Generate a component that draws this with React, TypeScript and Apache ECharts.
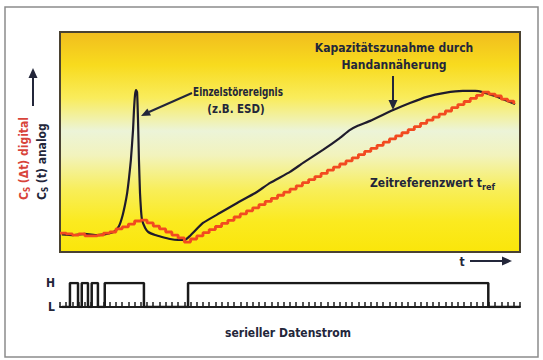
import React, { useEffect, useRef } from "react";
import * as echarts from "echarts";

// time axis in sampling-clock units (one tick per sample)
const TIME_MAX = 74;

// analog capacitance C_S(t): time / value pairs
const analogT = [0.3, 2, 4, 6, 8, 8.85, 9.5, 10.0, 10.45, 10.8, 11.1, 11.4, 11.75, 11.9, 12.07, 12.23, 12.4, 12.55, 12.7, 12.87, 13.03, 13.2, 13.7, 14.2, 15.3, 16.4, 17.7, 19.0, 20.1, 20.9, 23.0, 25.7, 28.5, 31.4, 33.8, 37.0, 39.1, 42.3, 45.0, 46.6, 47.9, 49.9, 53.6, 56.3, 59.0, 61.9, 64.8, 66.8, 68.0, 70.0, 71.6, 73.2];
const analogV = [8.0, 7.7, 8.2, 7.7, 8.6, 9.5, 11.8, 15.9, 21.4, 26.8, 33.6, 41.8, 55.5, 64.5, 71.4, 73.6, 72.7, 60.0, 41.8, 26.8, 19.1, 14.5, 10.9, 9.1, 7.7, 6.8, 5.9, 5.5, 5.5, 7.3, 13.2, 17.7, 22.3, 26.8, 31.4, 36.4, 40.5, 46.4, 51.8, 55.4, 57.4, 59.6, 64.5, 67.7, 70.5, 72.3, 73.2, 73.2, 72.7, 70.9, 69.1, 67.3];

// digital value C_S(Δt), one value per sample 0..73
const digitalV = [8.6, 8.2, 7.7, 8.2, 7.3, 7.3, 7.7, 8.6, 9.1, 10.5, 11.4, 12.7, 14.1, 14.5, 13.2, 11.8, 10.5, 9.1, 7.7, 6.4, 4.5, 5.9, 7.3, 8.8, 10.2, 11.6, 13.0, 14.4, 15.9, 17.3, 18.7, 20.1, 21.5, 23.0, 24.4, 25.8, 27.2, 28.6, 30.1, 31.5, 32.9, 34.3, 35.7, 37.2, 38.6, 40.0, 41.4, 42.8, 44.3, 45.7, 47.1, 48.5, 49.9, 51.4, 52.8, 54.2, 55.6, 57.0, 58.5, 59.9, 61.3, 62.7, 64.1, 65.6, 67.0, 68.4, 69.8, 71.2, 72.7, 71.8, 70.9, 69.5, 68.6, 67.3];

// serial data stream: level from each edge time onwards
const signalEdgesT = [0.3, 1.6, 2.9, 3.5, 4.5, 5.1, 6.1, 7.2, 13.5, 20.6, 68.9, 74];
const signalLevels = [0, 1, 0, 1, 0, 1, 0, 1, 0, 1, 0, 0];
const levelLabels = ["L", "H"];

const FONT = "'Liberation Sans Narrow', 'DejaVu Sans Condensed', 'Open Sans', sans-serif";
const DARK = "#23263a";
const RED = "#f24a20";

export default function App() {
  const ref = useRef<HTMLDivElement>(null);

  useEffect(() => {
    if (!ref.current) return;
    const chart = echarts.init(ref.current, undefined, { renderer: "svg" });

    const analogData = analogT.map((t, i) => [t, analogV[i]]);
    const digitalData = digitalV.map((v, i) => [i, v]);
    const signalData = signalEdgesT.map((t, i) => [t, signalLevels[i]]);

    const txt = (x: number, y: number, text: string, extra: any = {}, sx = 1) => ({
      type: "text",
      x,
      y,
      z: 50,
      scaleX: sx,
      style: {
        text,
        fill: DARK,
        font: `bold 12px ${FONT}`,
        align: "center",
        verticalAlign: "middle",
        ...extra,
      },
    });

    const option: any = {
      animation: false,
      backgroundColor: "#ffffff",
      grid: [
        { left: 60, top: 32, width: 460, height: 220 },
        { left: 60, top: 283, width: 460, height: 24 },
      ],
      xAxis: [
        { type: "value", gridIndex: 0, min: 0, max: TIME_MAX, show: false },
        {
          type: "value",
          gridIndex: 1,
          min: 0,
          max: TIME_MAX,
          interval: 1,
          position: "bottom",
          offset: 10,
          axisLine: { show: true, lineStyle: { color: "#1e1e1e", width: 2 } },
          axisTick: { show: true, inside: true, length: 5, lineStyle: { color: "#1e1e1e", width: 1.5 } },
          axisLabel: { show: false },
          splitLine: { show: false },
        },
      ],
      yAxis: [
        { type: "value", gridIndex: 0, min: 0, max: 100, show: false },
        {
          type: "value",
          gridIndex: 1,
          min: 0,
          max: 1,
          interval: 1,
          axisLine: { show: false },
          axisTick: { show: false },
          splitLine: { show: false },
          axisLabel: {
            margin: 5,
            color: DARK,
            fontWeight: "bold",
            fontSize: 12,
            fontFamily: FONT,
            formatter: (v: number) => levelLabels[v] ?? "",
          },
        },
      ],
      graphic: [
        {
          type: "rect",
          z: -10,
          shape: { x: 5, y: 7, width: 533, height: 350 },
          style: { fill: "#ffffff", stroke: "#8c8c8c", lineWidth: 1.5 },
        },
        {
          type: "rect",
          z: -5,
          shape: { x: 60, y: 32, width: 460, height: 220 },
          style: {
            fill: new echarts.graphic.LinearGradient(0, 0, 0, 1, [
              { offset: 0, color: "#f1bd1e" },
              { offset: 0.15, color: "#f8db1e" },
              { offset: 0.3, color: "#f9ec5c" },
              { offset: 0.45, color: "#ecf4d8" },
              { offset: 0.56, color: "#f2f3bd" },
              { offset: 0.72, color: "#f8ee58" },
              { offset: 0.86, color: "#fbea20" },
              { offset: 1, color: "#fae60a" },
            ]),
            stroke: "#4a4232",
            lineWidth: 2,
          },
        },
        // annotations
        txt(238, 92, "Einzelstörereignis", {}, 0.82),
        txt(236, 109, "(z.B. ESD)", {}, 0.95),
        { type: "line", z: 50, shape: { x1: 192, y1: 93, x2: 149, y2: 112 }, style: { stroke: DARK, lineWidth: 2 } },
        { type: "polygon", z: 50, shape: { points: [[141, 116], [151, 115.6], [147.4, 108.6]] }, style: { fill: DARK } },
        txt(394, 48, "Kapazitätszunahme durch"),
        txt(394, 65, "Handannäherung"),
        { type: "line", z: 50, shape: { x1: 393, y1: 76, x2: 393, y2: 101 }, style: { stroke: DARK, lineWidth: 2 } },
        { type: "polygon", z: 50, shape: { points: [[393, 110], [388.5, 100], [397.5, 100]] }, style: { fill: DARK } },
        {
          type: "text",
          x: 370,
          y: 183,
          z: 50,
          style: {
            text: "{a|Zeitreferenzwert t}{s|ref}",
            verticalAlign: "middle",
            align: "left",
            rich: {
              a: { font: `bold 12px ${FONT}`, fill: DARK, color: DARK },
              s: { font: `bold 9px ${FONT}`, fill: DARK, color: DARK, padding: [8, 0, 0, 0] },
            },
          },
        },
        txt(462, 262, "t"),
        { type: "line", z: 50, shape: { x1: 470, y1: 261, x2: 503, y2: 261 }, style: { stroke: DARK, lineWidth: 2 } },
        { type: "polygon", z: 50, shape: { points: [[512, 261], [502, 256.5], [502, 265.5]] }, style: { fill: DARK } },
        txt(288, 333, "serieller Datenstrom"),
        // y-axis label
        {
          type: "text",
          x: 24,
          y: 200,
          rotation: Math.PI / 2,
          z: 50,
          style: {
            text: "{c|C}{s|S}{c| (Δt) digital}",
            align: "left",
            verticalAlign: "middle",
            rich: {
              c: { font: `bold 12px ${FONT}`, fill: "#d8443a", color: "#d8443a" },
              s: { font: `bold 8px ${FONT}`, fill: "#d8443a", color: "#d8443a", padding: [7, 0, 0, 0] },
            },
          },
        },
        {
          type: "text",
          x: 42,
          y: 200,
          rotation: Math.PI / 2,
          z: 50,
          style: {
            text: "{c|C}{s|S}{c| (t) analog}",
            align: "left",
            verticalAlign: "middle",
            rich: {
              c: { font: `bold 12px ${FONT}`, fill: DARK, color: DARK },
              s: { font: `bold 8px ${FONT}`, fill: DARK, color: DARK, padding: [7, 0, 0, 0] },
            },
          },
        },
        { type: "line", z: 50, shape: { x1: 33, y1: 106, x2: 33, y2: 77 }, style: { stroke: DARK, lineWidth: 2 } },
        { type: "polygon", z: 50, shape: { points: [[33, 68], [28.5, 78], [37.5, 78]] }, style: { fill: DARK } },
      ],
      series: [
        {
          type: "line",
          xAxisIndex: 0,
          yAxisIndex: 0,
          data: analogData,
          symbol: "none",
          smooth: 0.15,
          lineStyle: { color: "#1f1b2c", width: 2.2 },
          z: 3,
        },
        {
          type: "line",
          xAxisIndex: 0,
          yAxisIndex: 0,
          data: digitalData,
          symbol: "none",
          step: "end",
          lineStyle: { color: RED, width: 2.8 },
          z: 4,
        },
        {
          type: "line",
          xAxisIndex: 1,
          yAxisIndex: 1,
          data: signalData,
          symbol: "none",
          step: "end",
          lineStyle: { color: "#1a1a1a", width: 2.5 },
          z: 4,
        },
      ],
    };

    chart.setOption(option);
    return () => chart.dispose();
  }, []);

  return (
    <div
      ref={ref}
      style={{ position: "fixed", left: 0, top: 0, width: 543, height: 360 }}
    />
  );
}
